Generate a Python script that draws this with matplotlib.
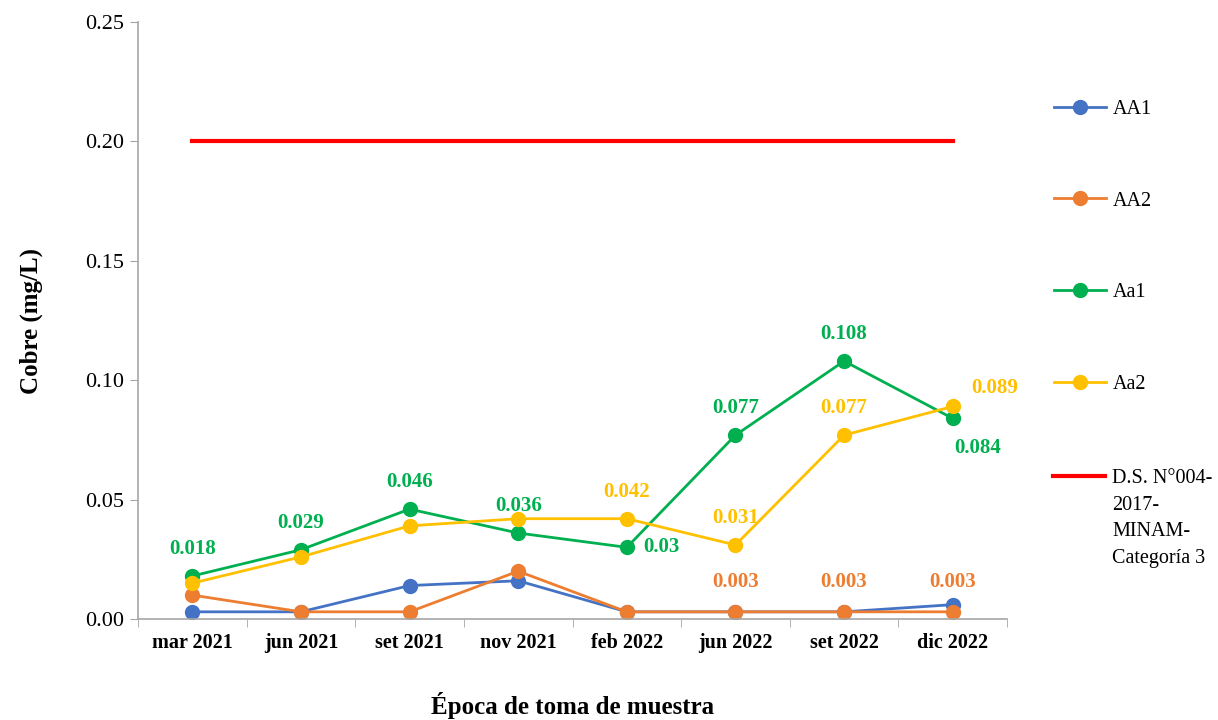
import matplotlib
matplotlib.use("Agg")
import matplotlib.pyplot as plt
from matplotlib.lines import Line2D
import numpy as np

plt.rcParams['font.family'] = ['Liberation Serif', 'DejaVu Serif']

# Copper concentration per sampling campaign (mg/L)
epocas = ["mar 2021", "jun 2021", "set 2021", "nov 2021",
          "feb 2022", "jun 2022", "set 2022", "dic 2022"]
aa1 = [0.003, 0.003, 0.014, 0.016, 0.003, 0.003, 0.003, 0.006]
aa2 = [0.010, 0.003, 0.003, 0.020, 0.003, 0.003, 0.003, 0.003]
aa1_low = [0.018, 0.029, 0.046, 0.036, 0.030, 0.077, 0.108, 0.084]
aa2_low = [0.015, 0.026, 0.039, 0.042, 0.042, 0.031, 0.077, 0.089]
limite = 0.20
limite_label = "D.S. N°004-\n2017-\nMINAM-\nCategoría 3"

c_aa1 = "#4472C4"
c_aa2 = "#ED7D31"
c_aa1l = "#00B050"
c_aa2l = "#FFC000"
c_lim = "#FF0000"

fig = plt.figure(figsize=(12.18, 7.2), dpi=100)
ax = fig.add_axes([0.1133, 0.1403, 0.7135, 0.8291])

x = np.arange(len(epocas))
kw = dict(marker="o", markersize=10, linewidth=2)
ax.plot(x, aa1, color=c_aa1, label="AA1", **kw)
ax.plot(x, aa2, color=c_aa2, label="AA2", **kw)
ax.plot(x, aa1_low, color=c_aa1l, label="Aa1", **kw)
ax.plot(x, aa2_low, color=c_aa2l, label="Aa2", **kw)
ax.plot(x, [limite] * len(x), color=c_lim, linewidth=3)

lab = dict(fontsize=15, fontweight="bold", ha="center", va="bottom",
           textcoords="offset points")

# Aa1 value labels
for i, v in enumerate(aa1_low):
    if i == 4:
        ax.annotate(f"{v:g}", (x[i], v), xytext=(12, 0), color=c_aa1l,
                    **{**lab, "ha": "left", "va": "center"})
    elif i == 7:
        ax.annotate(f"{v:g}", (x[i], v), xytext=(18, -14), color=c_aa1l,
                    **{**lab, "va": "top"})
    else:
        ax.annotate(f"{v:g}", (x[i], v), xytext=(0, 12), color=c_aa1l, **lab)

# Aa2 value labels
for i in (4, 5, 6):
    ax.annotate(f"{aa2_low[i]:g}", (x[i], aa2_low[i]), xytext=(0, 12),
                color=c_aa2l, **lab)
ax.annotate(f"{aa2_low[7]:g}", (x[7], aa2_low[7]), xytext=(13, 6),
            color=c_aa2l, **{**lab, "ha": "left"})

# AA2 value labels
for i in (5, 6, 7):
    ax.annotate(f"{aa2[i]:.3f}", (x[i], aa2[i]), xytext=(0, 14),
                color=c_aa2, **lab)

ax.set_xlim(-0.5, len(x) - 0.5)
ax.set_ylim(0, 0.25)
yt = np.arange(0, 0.251, 0.05)
ax.set_yticks(yt)
ax.set_yticklabels([f"{t:.2f}" for t in yt], fontsize=16)
ax.set_xticks(x)
ax.set_xticklabels(epocas, fontsize=14.5, fontweight="bold")
ax.set_xticks(np.arange(-0.5, len(x), 1), minor=True)
ax.tick_params(axis="x", which="major", length=0, pad=10)
ax.tick_params(axis="x", which="minor", length=6, color="#A6A6A6", direction="out")
ax.tick_params(axis="y", length=6, color="#A6A6A6", pad=4)

for s in ("top", "right"):
    ax.spines[s].set_visible(False)
for s in ("left", "bottom"):
    ax.spines[s].set_color("#A6A6A6")
    ax.spines[s].set_linewidth(1.2)

ax.set_ylabel("Cobre (mg/L)", fontsize=18, fontweight="bold", labelpad=30)
ax.set_xlabel("Época de toma de muestra", fontsize=18, fontweight="bold", labelpad=28)

leg = ax.legend(loc="upper left", bbox_to_anchor=(1.033, 0.90), frameon=False,
                fontsize=14.5, labelspacing=3.6, handlelength=2.6,
                handletextpad=0.35)

# standard limit key: handle sits on the first line of a wrapped label
ax.add_line(Line2D([1.053, 1.1128], [0.2395, 0.2395], transform=ax.transAxes,
                   color=c_lim, linewidth=3, clip_on=False))
ax.text(1.1208, 0.2515, limite_label, transform=ax.transAxes, fontsize=14.5,
        va="top", ha="left", linespacing=1.55)

fig.savefig("out.png", dpi=100)
